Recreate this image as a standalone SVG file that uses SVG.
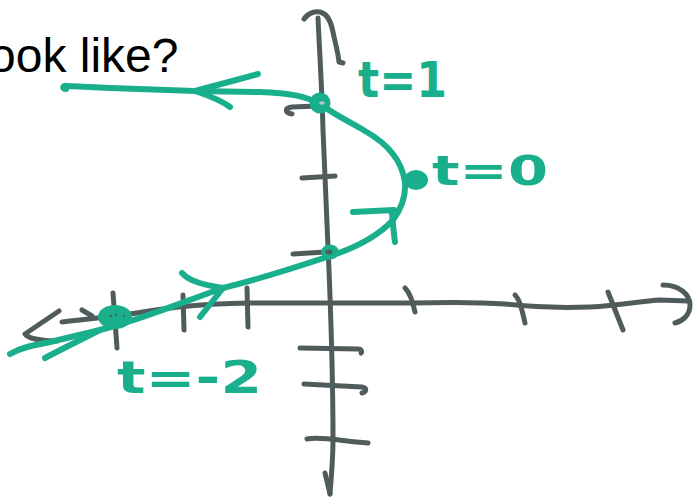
<svg xmlns="http://www.w3.org/2000/svg" width="695" height="497" viewBox="0 0 695 497">
<style>
.ax{fill:none;stroke:#505c5c;stroke-width:5;stroke-linecap:round;stroke-linejoin:round}
.gr{fill:none;stroke:#1aaf8c;stroke-width:6;stroke-linecap:round;stroke-linejoin:round}
.dot{fill:#1aaf8c}
.lbl{fill:#1aaf8c;font-family:"DejaVu Sans",sans-serif;font-weight:bold}
.q{fill:#000;font-family:"Liberation Sans",Arial,sans-serif;font-size:48px}
</style>
<rect width="695" height="497" fill="#fff"/>
<text class="q" x="-11" y="72">ook like?</text>
<g id="axes">
<path class="ax" d="M318,18 C320,60 322,90 323,130 C325,180 327,230 329,270 C331,320 333,380 333,440 C333,460 331,480 330,494"/>
<path class="ax" d="M325,473 L330,494"/>
<path class="ax" d="M304,19 C308,13 315,11 320,12 C328,14 331,22 333,32 C335,42 338,52 339,62 L343,63"/>
<path class="ax" d="M292,114 C285,113 284,108 292,107 L318,106"/>
<path class="ax" d="M302,178 L335,176"/>
<path class="ax" d="M293,254 L325,252"/>
<path class="ax" d="M300,348 L358,349 C362,349 362,352 361,353"/>
<path class="ax" d="M304,384 L362,387 C368,388 366,392 362,393"/>
<path class="ax" d="M307,439 C320,436 340,441 368,443"/>
<path class="ax" d="M62,322 C80,320 100,318 130,314 C160,309 190,304 250,303 L330,303 L410,303 C450,302 480,302 505,304 C530,307 560,308 590,307 C620,306 640,301 660,300 L688,301"/>
<path class="ax" d="M59,311 L25,334 C28,338 40,341 57,341" stroke-width="6"/>
<path class="ax" d="M82,310 L92,316"/>
<path class="ax" d="M663,285 C680,285 690,295 690,305 C690,315 683,321 675,323"/>
<path class="ax" d="M113,293 L117,348"/>
<path class="ax" d="M183,295 L184,330"/>
<path class="ax" d="M247,288 L248,327"/>
<path class="ax" d="M405,288 C410,293 412,300 415,312"/>
<path class="ax" d="M515,295 C520,300 522,310 525,323"/>
<path class="ax" d="M608,292 L623,330"/>
</g>
<g id="connectors">
<path class="gr" d="M10,354 C20,348 30,346 50,342 L100,330 C140,320 180,303 223,288 C260,279 300,266 330,256 C355,248 378,236 393,220 C402,208 406,195 405,182 C402,162 390,145 365,131 C350,122 335,115 320,104 C305,96 290,93 260,92 L195,91 L110,88 L68,86 C62,85 62,89 66,89"/>
<path class="gr" d="M45,358 C60,350 80,340 100,330"/>
<path class="gr" d="M182,273 C190,282 205,285 223,288 M200,317 L223,288"/>
<path class="gr" d="M353,212 L394,210 M392,213 C393,225 394,235 395,242"/>
<path class="gr" d="M258,74 L195,91 C210,96 222,101 230,107"/>
</g>
<g id="p-t1">
<circle class="dot" cx="320" cy="103" r="10.5"/>
<ellipse cx="322" cy="103" rx="2.8" ry="1.8" fill="#b8c4c2"/>
<text class="lbl" x="358" y="97" font-size="50" textLength="89" lengthAdjust="spacingAndGlyphs">t=1</text>
</g>
<g id="p-t0">
<ellipse class="dot" cx="416" cy="180" rx="12" ry="10"/>
<text class="lbl" x="432" y="185" font-size="40" textLength="116" lengthAdjust="spacingAndGlyphs">t=0</text>
</g>
<g id="p-axis">
<ellipse class="dot" cx="330" cy="252" rx="9" ry="7.5"/>
<ellipse cx="329" cy="252" rx="3.5" ry="2.5" fill="#505c5c"/>
</g>
<g id="p-tm2">
<ellipse class="dot" cx="115" cy="317" rx="17" ry="12"/>
<circle cx="111" cy="316" r="1.3" fill="#505c5c"/>
<circle cx="116" cy="315" r="1.3" fill="#505c5c"/>
<circle cx="124" cy="316" r="1.1" fill="#505c5c"/>
<text class="lbl" x="117" y="393" font-size="44" textLength="145" lengthAdjust="spacingAndGlyphs">t=-2</text>
</g>
</svg>
